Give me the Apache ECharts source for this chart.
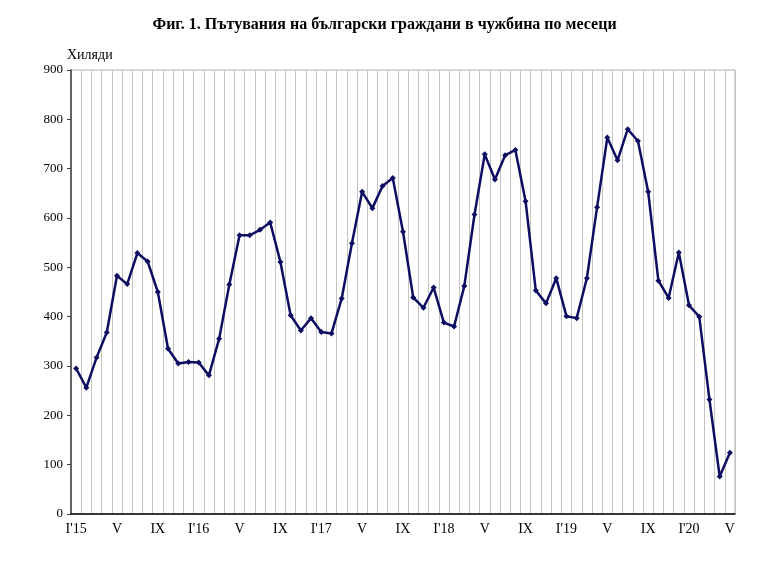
<!DOCTYPE html>
<html>
<head>
<meta charset="utf-8">
<script src="https://cdn.jsdelivr.net/npm/echarts@6/dist/echarts.min.js"></script>
<style>
html,body{margin:0;padding:0;background:#fff;}
#c{width:769px;height:585px;}
</style>
</head>
<body>
<div id="c"></div>
<script>
var monthNames = ["I","II","III","IV","V","VI","VII","VIII","IX","X","XI","XII"];
var years = ["15","16","17","18","19","20"];
var yTicks = [0,100,200,300,400,500,600,700,800,900];
var values2015 = [295,256,317,368,483,466,529,512,450,335,305,308];
var values2016 = [307,281,355,465,565,565,576,591,511,403,372,397];
var values2017 = [369,366,437,549,653,620,665,681,572,439,418,459];
var values2018 = [388,380,462,607,729,678,727,738,634,453,427,478];
var values2019 = [401,397,478,622,763,717,780,756,653,473,438,530];
var values2020 = [423,400,232,76,124];

var categories = [];
years.forEach(function(y, yi){
  var n = (yi === years.length - 1) ? values2020.length : 12;
  for (var m = 0; m < n; m++) {
    categories.push(m === 0 ? "I'" + y : monthNames[m]);
  }
});
var values = [].concat(values2015, values2016, values2017, values2018, values2019, values2020);

var chart = echarts.init(document.getElementById('c'));
var serif = '"Liberation Serif","Times New Roman",serif';
chart.setOption({
  animation: false,
  backgroundColor: '#fff',
  title: {
    text: 'Фиг. 1. Пътувания на български граждани в чужбина по месеци',
    left: 'center',
    top: 12,
    textStyle: {fontFamily: serif, fontWeight: 'bold', fontSize: 16, color: '#000'}
  },
  grid: {left: 71, right: 34, top: 70, bottom: 71, show: true, borderColor: '#b0b0b0', borderWidth: 1},
  xAxis: {
    type: 'category',
    data: categories,
    boundaryGap: true,
    axisLine: {lineStyle: {color: '#000', width: 1.5}},
    axisTick: {show: false},
    axisLabel: {interval: 3, fontFamily: serif, fontSize: 14, color: '#000', margin: 8},
    splitLine: {show: true, interval: 0, lineStyle: {color: '#c4c4c4', width: 1}}
  },
  yAxis: {
    type: 'value',
    min: yTicks[0],
    max: yTicks[yTicks.length - 1],
    interval: 100,
    name: 'Хиляди',
    nameLocation: 'end',
    nameGap: 8,
    nameTextStyle: {fontFamily: serif, fontSize: 14, color: '#000', align: 'left', padding: [0, 0, 0, -4]},
    axisLine: {show: true, lineStyle: {color: '#404040', width: 1.5}},
    axisTick: {show: true, length: 4, lineStyle: {color: '#404040'}},
    axisLabel: {fontFamily: serif, fontSize: 13, color: '#000', margin: 8},
    splitLine: {show: false}
  },
  series: [{
    type: 'line',
    data: values,
    symbol: 'diamond',
    symbolSize: 6,
    lineStyle: {color: '#0d0d62', width: 2.5},
    itemStyle: {color: '#0d0d62'}
  }]
});
</script>
</body>
</html>
